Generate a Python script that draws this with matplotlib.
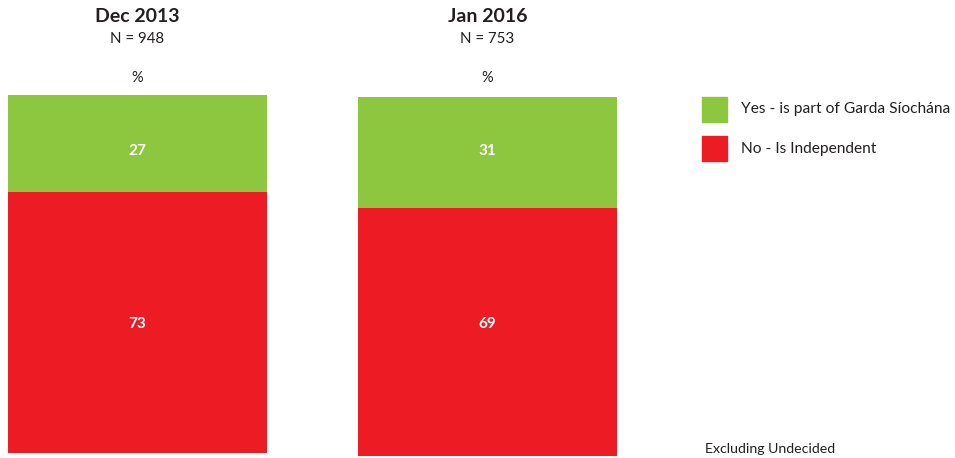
import matplotlib
matplotlib.use("Agg")
import matplotlib.pyplot as plt
from matplotlib.patches import Rectangle

plt.rcParams['font.family'] = ['Lato', 'DejaVu Sans']

periods = ["Dec 2013", "Jan 2016"]
sample_sizes = ["N = 948", "N = 753"]
series_names = ["Yes - is part of Garda Síochána", "No - Is Independent"]
yes_values = [27, 31]
no_values = [73, 69]
colors = ["#8DC63F", "#ED1C24"]

W, H = 955, 458
fig = plt.figure(figsize=(W / 100, H / 100), dpi=100)

# bar boxes in pixel coordinates: (left, top, right, bottom)
boxes = [(8, 95, 267, 453), (358, 97, 617, 456)]

for i, (l, t, r, b) in enumerate(boxes):
    ax = fig.add_axes([l / W, (H - b) / H, (r - l) / W, (b - t) / H])
    ax.bar([0], [no_values[i]], width=1, color=colors[1], bottom=0)
    ax.bar([0], [yes_values[i]], width=1, color=colors[0], bottom=no_values[i])
    ax.set_xlim(-0.5, 0.5)
    ax.set_ylim(0, 100)
    ax.axis("off")
    cx = (l + r) / 2 / W
    # value labels sit at fixed heights in the original
    fig.text(cx, 1 - 151 / H, str(yes_values[i]), ha="center", va="center",
             color="white", fontsize=11, fontweight="bold")
    fig.text(cx, 1 - 324 / H, str(no_values[i]), ha="center", va="center",
             color="white", fontsize=11, fontweight="bold")
    fig.text(cx, 1 - 17 / H, periods[i], ha="center", va="center", fontsize=14,
             fontweight="bold", color="#231F20")
    fig.text(cx, 1 - 39 / H, sample_sizes[i], ha="center", va="center", fontsize=10.8,
             color="#231F20")
    fig.text(cx, 1 - 78 / H, "%", ha="center", va="center", fontsize=10.5, color="#231F20")

# legend
for j, name in enumerate(series_names):
    top = 97 + j * 39
    fig.patches.append(Rectangle((702 / W, 1 - (top + 25) / H), 25 / W, 25 / H,
                                 transform=fig.transFigure, color=colors[j]))
    fig.text(741 / W, 1 - (top + 12.5) / H, name, ha="left", va="center", fontsize=11.2,
             color="#231F20")

fig.text(705 / W, 1 - 449 / H, "Excluding Undecided", ha="left", va="center", fontsize=10.2,
         color="#231F20")

fig.savefig("out.png", dpi=100)
